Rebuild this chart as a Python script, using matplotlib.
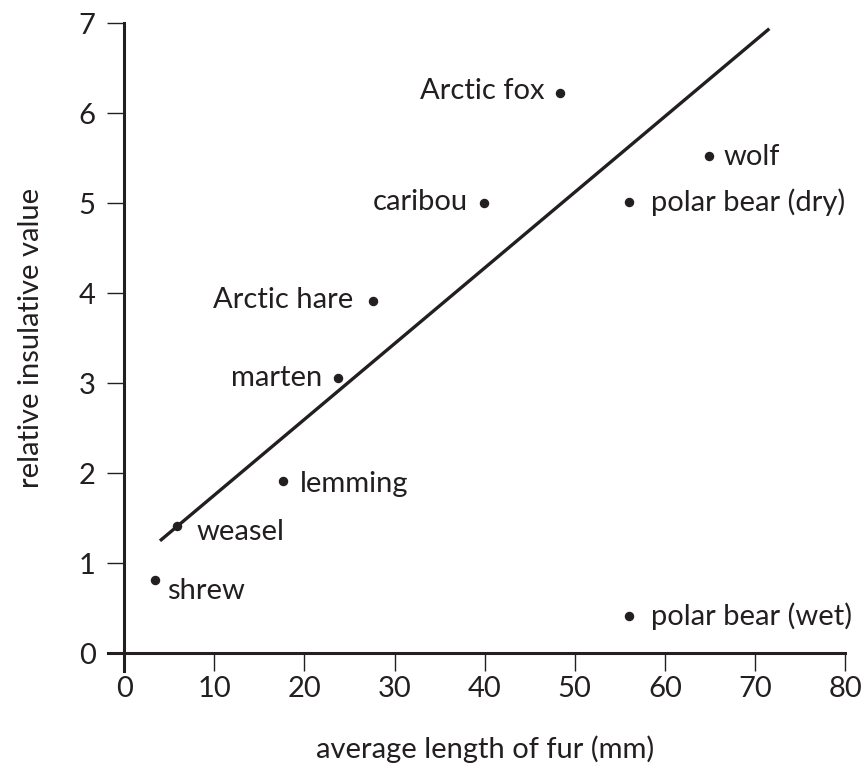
import matplotlib
matplotlib.use("Agg")
import matplotlib.pyplot as plt

# ---- data ----
animals = ["shrew", "weasel", "lemming", "marten", "Arctic hare",
           "caribou", "Arctic fox", "polar bear (dry)", "wolf", "polar bear (wet)"]
fur_length = [3.4, 5.8, 17.6, 23.7, 27.6, 39.9, 48.4, 56.0, 64.9, 56.0]
insulation = [0.81, 1.41, 1.91, 3.06, 3.91, 5.0, 6.23, 5.01, 5.53, 0.41]
trend_x = [3.96, 71.6]
trend_y = [1.25, 6.94]
x_ticks = [0, 10, 20, 30, 40, 50, 60, 70, 80]
y_ticks = [0, 1, 2, 3, 4, 5, 6, 7]

# ---- styling / label positions (pixel offsets: dx, dy, ha) ----
label_offsets = [(11.7, -18.3, "left"), (20, -14, "left"), (16.6, -10.7, "left"),
                 (-15.6, -8.4, "right"), (-19.3, -6.6, "right"), (-16, -6.7, "right"),
                 (-16, -6.6, "right"), (22.4, -9, "left"), (14.7, -9, "left"),
                 (22.4, -8.3, "left")]

INK = "#231f20"
plt.rcParams["font.family"] = ["Lato", "DejaVu Sans"]
FS = 21

DPI = 100
fig = plt.figure(figsize=(8.65, 7.69), dpi=DPI)
ax = fig.add_axes([124.3 / 865, (769 - 653.3) / 769, (845 - 124.3) / 865, (653.3 - 23.3) / 769])

ax.plot(trend_x, trend_y, color=INK, lw=2.4, solid_capstyle="butt", zorder=2)
ax.plot(fur_length, insulation, "o", color=INK, ms=5.8, zorder=3)

px2pt = 72 / DPI
for name, x, y, (dx, dy, ha) in zip(animals, fur_length, insulation, label_offsets):
    ax.annotate(name, (x, y), xytext=(dx * px2pt, dy * px2pt), textcoords="offset points",
                ha=ha, va="baseline", fontsize=FS, color=INK)

ax.set_xlim(0, 80)
ax.set_ylim(0, 7)
ax.set_xticks(x_ticks)
ax.set_yticks(y_ticks)
ax.set_xticklabels([str(v) for v in x_ticks])
ax.set_yticklabels([str(v) for v in y_ticks])

for s in ["top", "right"]:
    ax.spines[s].set_visible(False)
for s in ["left", "bottom"]:
    ax.spines[s].set_linewidth(2.2)
    ax.spines[s].set_color(INK)
ax.spines["left"].set_bounds(-0.2, 7)
ax.spines["bottom"].set_bounds(-1.85, 80)

ax.tick_params(axis="both", direction="out", length=12.6, width=1.0, color=INK,
               labelsize=FS, labelcolor=INK)
ax.tick_params(axis="x", pad=4)
ax.tick_params(axis="y", pad=8)

ax.set_xlabel("average length of fur (mm)", fontsize=FS, color=INK, labelpad=24)
ax.set_ylabel("relative insulative value", fontsize=FS, color=INK, labelpad=25)

fig.savefig("out.png", dpi=DPI)
